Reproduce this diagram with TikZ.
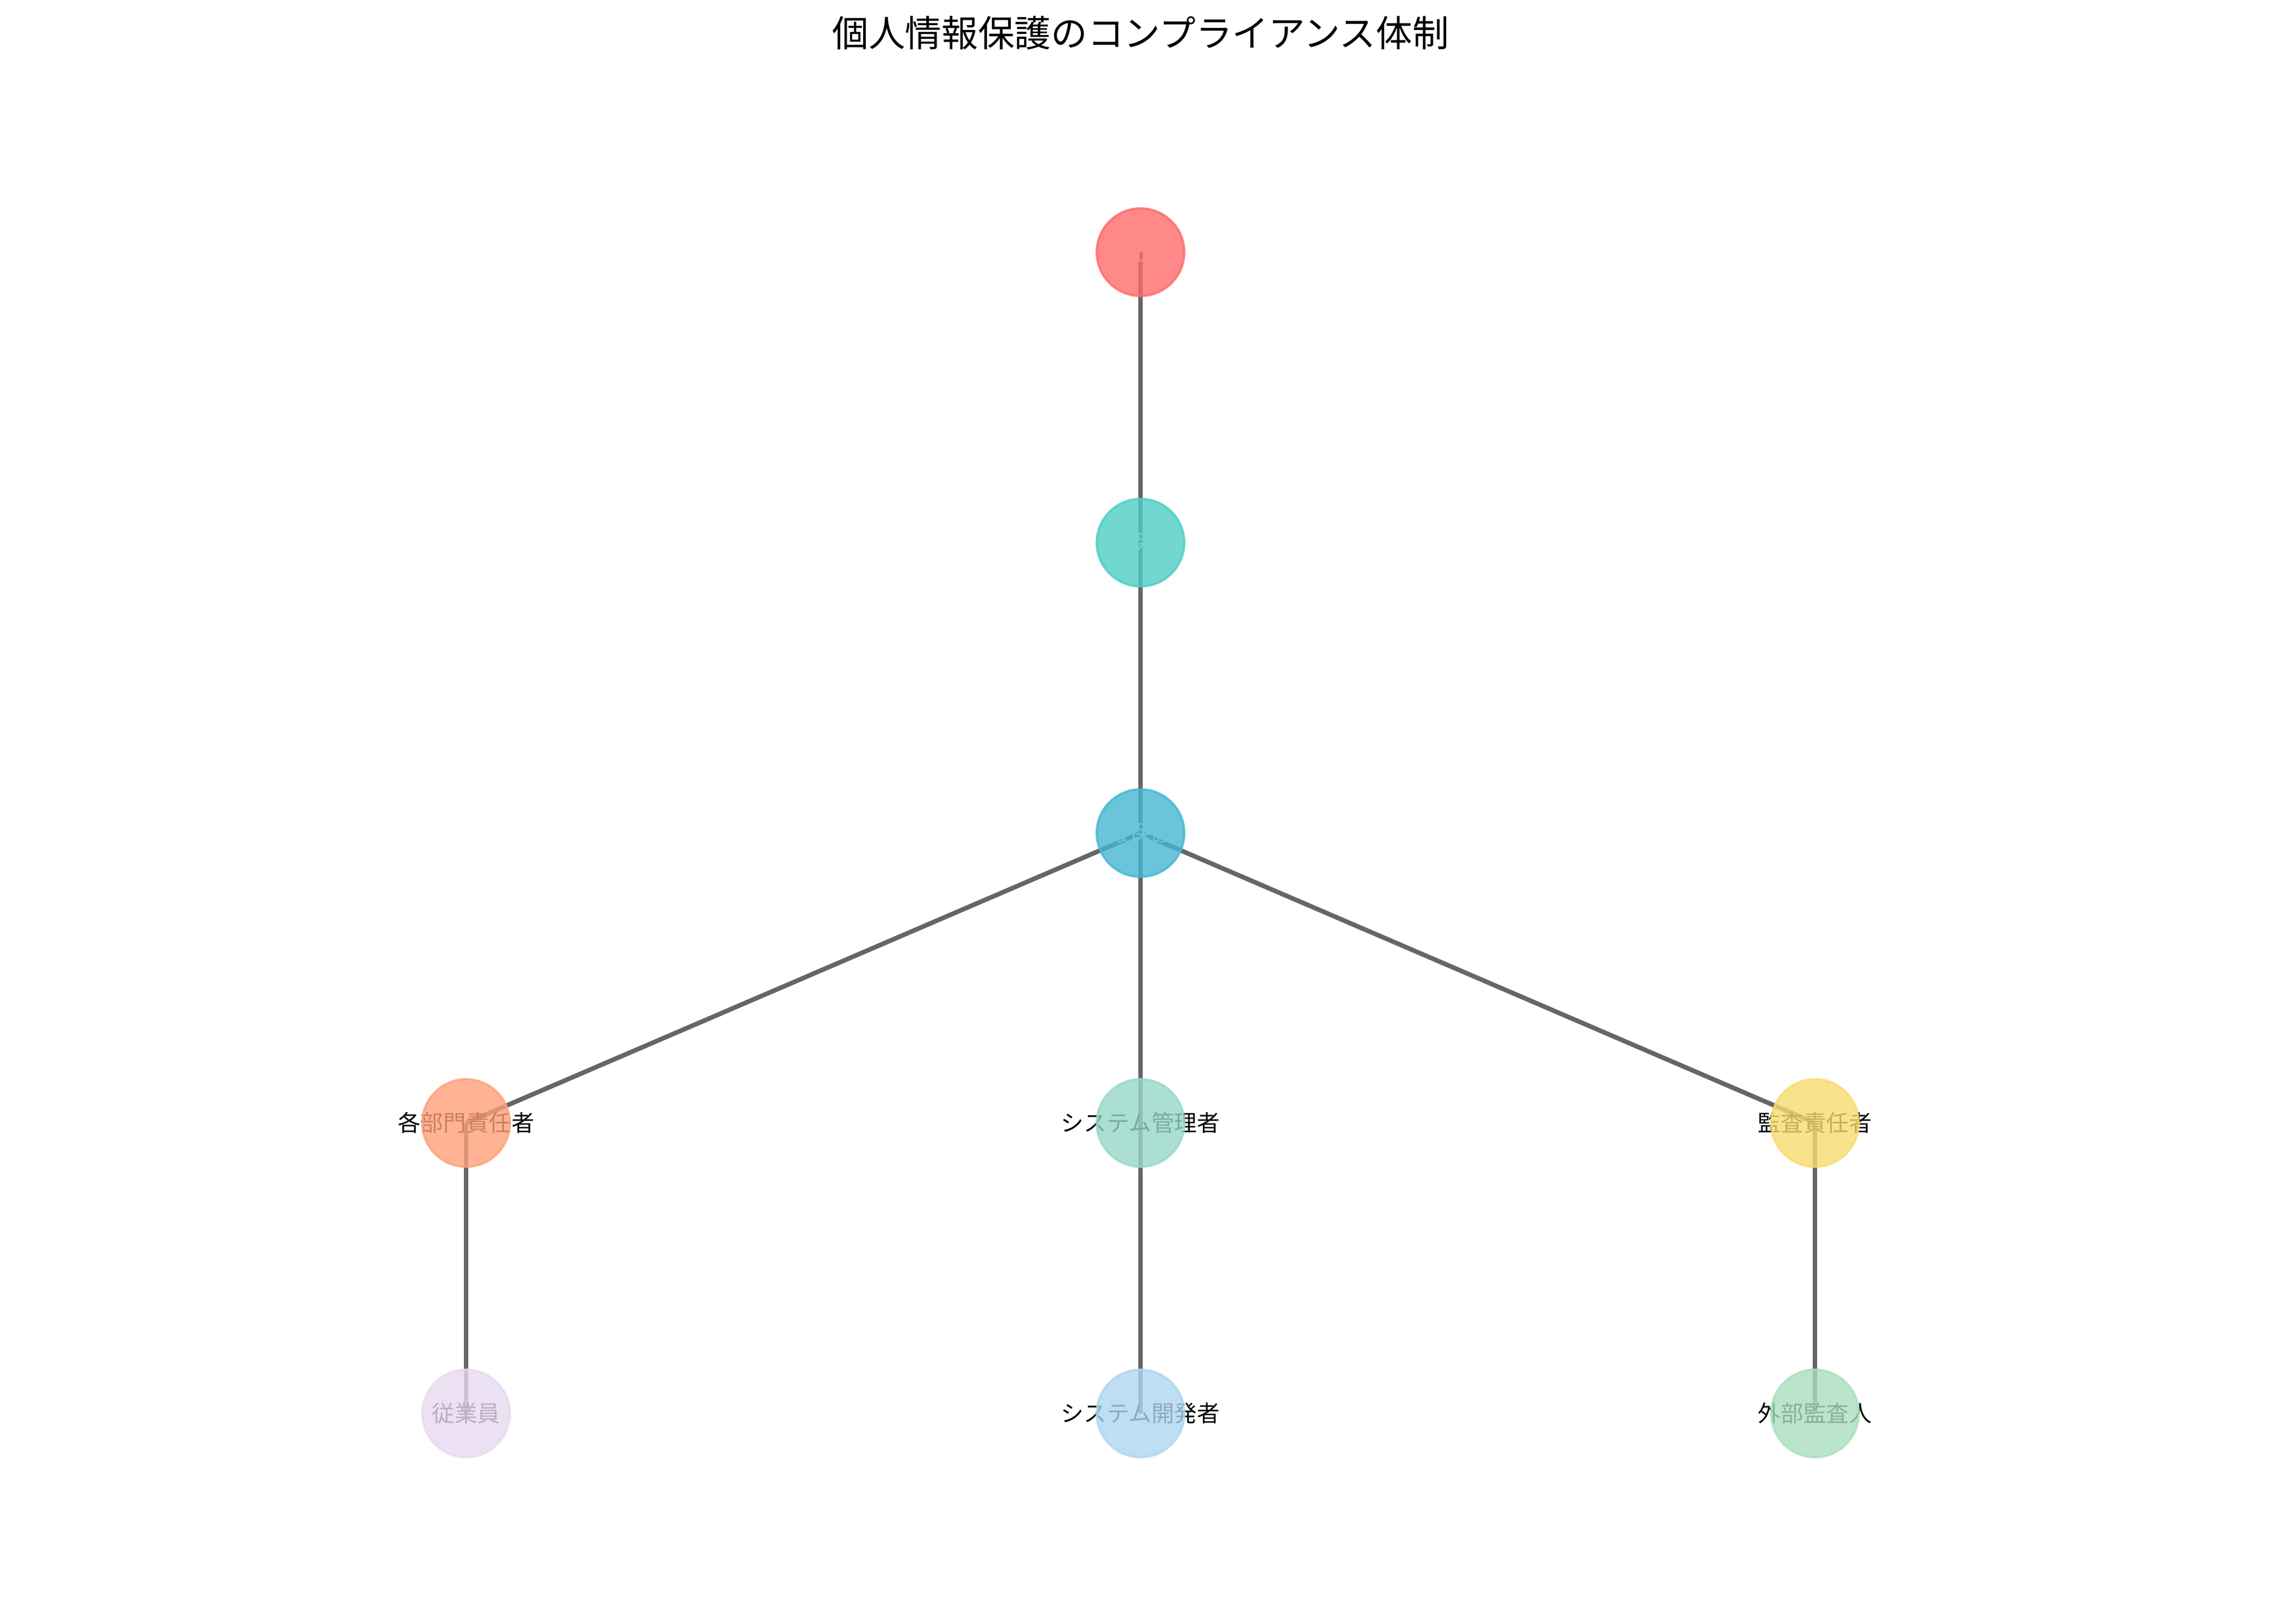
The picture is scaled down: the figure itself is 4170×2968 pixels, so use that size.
\documentclass[tikz,border=0pt]{standalone}
\usepackage{fontspec}
\setmainfont{Noto Sans CJK JP}
\definecolor{cA}{HTML}{FF6B6B}
\definecolor{cB}{HTML}{4ECDC4}
\definecolor{cC}{HTML}{45B7D1}
\definecolor{cD}{HTML}{FFA07A}
\definecolor{cE}{HTML}{98D8C8}
\definecolor{cF}{HTML}{F7DC6F}
\definecolor{cG}{HTML}{E8DAEF}
\definecolor{cH}{HTML}{AED6F1}
\definecolor{cI}{HTML}{A9DFBF}
\definecolor{edgegray}{HTML}{666666}
\begin{document}
\begin{tikzpicture}[x=0.24pt,y=-0.24pt,
  link/.style={draw=edgegray,line width=2pt,line cap=butt},
  lbl/.style={inner sep=0pt,font=\fontsize{10pt}{12pt}\selectfont,text=black},
  wlbl/.style={lbl,text=white},
  dot/.style={circle,minimum size=38.4pt,inner sep=0pt,line width=1pt,
    fill=#1,draw=#1,fill opacity=0.8,draw opacity=0.8}]
\fill[white] (0,0) rectangle (4170,2968);
\useasboundingbox (0,0) rectangle (4170,2968);
% positions
\coordinate (p1) at (2085,461);
\coordinate (p2) at (2085,992);
\coordinate (p3) at (2085,1523);
\coordinate (p4) at (852,2053);
\coordinate (p5) at (2085,2053);
\coordinate (p6) at (3318,2053);
\coordinate (p7) at (852,2584);
\coordinate (p8) at (2085,2584);
\coordinate (p9) at (3318,2584);
% title
\node[inner sep=0pt,font=\fontsize{16pt}{19pt}\selectfont] (title) at (2085,60) {個人情報保護のコンプライアンス体制};
% edges
\draw[link] (p1) -- (p2);
\draw[link] (p2) -- (p3);
\draw[link] (p3) -- (p4);
\draw[link] (p3) -- (p5);
\draw[link] (p3) -- (p6);
\draw[link] (p4) -- (p7);
\draw[link] (p5) -- (p8);
\draw[link] (p6) -- (p9);
% labels
\node[wlbl] (l1) at (p1) {代表取締役};
\node[wlbl] (l2) at (p2) {個人情報保護管理者};
\node[wlbl] (l3) at (p3) {個人情報保護委員会};
\node[lbl] (l4) at (p4) {各部門責任者};
\node[lbl] (l5) at (p5) {システム管理者};
\node[lbl] (l6) at (p6) {監査責任者};
\node[lbl] (l7) at (p7) {従業員};
\node[lbl] (l8) at (p8) {システム開発者};
\node[lbl] (l9) at (p9) {外部監査人};
% circles
\node[dot=cA] (n1) at (p1) {};
\node[dot=cB] (n2) at (p2) {};
\node[dot=cC] (n3) at (p3) {};
\node[dot=cD] (n4) at (p4) {};
\node[dot=cE] (n5) at (p5) {};
\node[dot=cF] (n6) at (p6) {};
\node[dot=cG] (n7) at (p7) {};
\node[dot=cH] (n8) at (p8) {};
\node[dot=cI] (n9) at (p9) {};
\end{tikzpicture}
\end{document}
